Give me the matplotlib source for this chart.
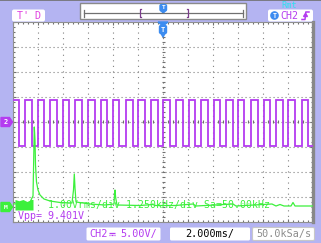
import matplotlib
matplotlib.use("Agg")
import matplotlib.pyplot as plt
from matplotlib.patches import Rectangle, FancyBboxPatch, Polygon, Circle
from matplotlib.ticker import MultipleLocator
import numpy as np

# ---------------- data ----------------
# CH2 square wave, 2.000 ms/div, 5.00 V/div
ch2_high_v = 4.3
ch2_low_v = -4.85
ch2_fall_ms = [-11.52, -10.50, -9.50, -8.50, -7.50, -6.50, -5.44, -4.50, -3.50, -2.44,
               -1.44, -0.44, 0.56, 1.56, 2.56, 3.56, 4.56, 5.56, 6.50, 7.56, 8.56,
               9.56, 10.58, 11.62]
ch2_rise_ms = [-11.04, -10.03, -9.02, -8.02, -7.02, -6.00, -4.98, -3.98, -2.96, -1.98,
               -0.98, 0.02, 1.03, 2.04, 3.04, 4.04, 5.04, 6.02, 7.02, 8.08, 9.04,
               10.02, 11.10]

# Math FFT trace, 1.250 kHz/div, 1.00 Vrms/div
fft_khz = [0.0, 0.85, 0.9, 1.0, 1.035, 1.065, 1.1, 1.125, 1.175, 1.25, 1.35, 1.55, 1.85,
           2.35, 2.95, 3.025, 3.065, 3.1, 3.15, 3.85, 4.6, 5.05, 5.085, 5.1, 5.135, 5.2,
           6.35, 7.0, 7.1, 8.1, 9.0, 9.15, 11.0, 11.15, 12.95, 13.15, 13.35, 13.55,
           13.9, 14.0, 14.1, 15.0]
fft_vrms = [0.12, 0.16, 0.28, 0.44, 1.88, 3.2, 2.68, 1.68, 1.0, 0.68, 0.48, 0.32, 0.24,
            0.18, 0.16, 0.68, 1.32, 0.76, 0.2, 0.12, 0.08, 0.12, 0.6, 0.68, 0.36, 0.08,
            0.06, 0.1, 0.06, 0.06, 0.12, 0.04, 0.12, 0.04, 0.12, 0.04, 0.1, 0.04,
            0.04, 0.18, 0.04, 0.04]
fft_dc_khz = [0.1, 0.3, 0.5, 0.7, 0.9, 1.0]
fft_dc_top = [0.3, 0.25, 0.3, 0.22, 0.3, 0.3]
fft_ref_div = -3.4   # math reference marker position (divisions)

vpp_text = "Vpp= 9.401V"
fft_text = "1.00Vrms/div 1.250kHz/div Sa=50.00kHz"
ch_name = "CH2"          # followed by the DC-coupling symbol (drawn as a shape)
ch_scale = "5.00V/"
tb_label = "2.000ms/"
sa_label = "50.0kSa/s"

# ---------------- styling ----------------
W, H = 321, 243
BG = "#B4B4F2"
PURPLE = "#B43CF0"
GREEN = "#3CF03C"
BLUE = "#3C8CF0"
MAGENTA = "#E040E0"
GRAYD = "#808080"
MONO = ["DejaVu Sans Mono", "DejaVu Sans"]

fig = plt.figure(figsize=(W / 100, H / 100), dpi=100, facecolor=BG)

# screen rectangle in pixels
SX0, SX1, SY0, SY1 = 13, 313, 22, 222
pos = [SX0 / W, (H - SY1) / H, (SX1 - SX0) / W, (SY1 - SY0) / H]

ax = fig.add_axes(pos, facecolor="white")
ax.set_xlim(-12, 12)
ax.set_ylim(-20, 20)
ax.xaxis.set_major_locator(MultipleLocator(2))
ax.xaxis.set_minor_locator(MultipleLocator(0.4))
ax.yaxis.set_major_locator(MultipleLocator(5))
ax.yaxis.set_minor_locator(MultipleLocator(1))
ax.tick_params(which="both", direction="in", top=True, right=True, color="#707070",
               width=0.8, labelbottom=False, labelleft=False)
ax.tick_params(which="major", length=2.4)
ax.tick_params(which="minor", length=1.3)
for s in ["left", "top", "bottom"]:
    ax.spines[s].set_color("#909090")
    ax.spines[s].set_linewidth(0.8)
ax.spines["right"].set_color("#888888")
ax.spines["right"].set_linewidth(2.4)

# dotted grid
for gx in np.arange(-10, 11, 2):
    ax.axvline(gx, color=GRAYD, lw=0.8, ls=(0, (1, 4)), zorder=1)
for gy in np.arange(-15, 16, 5):
    ax.axhline(gy, color=GRAYD, lw=0.8, ls=(0, (1, 2.6)), zorder=1)
# centre-line tick marks
ax.vlines(np.arange(-12, 12.01, 0.4), -0.3, 0.3, color="#707070", lw=0.8, zorder=1)
ax.hlines(np.arange(-20, 20.01, 1), -0.12, 0.12, color="#707070", lw=0.8, zorder=1)

# square wave built from the edge lists
edges = sorted([(t, ch2_low_v) for t in ch2_fall_ms] + [(t, ch2_high_v) for t in ch2_rise_ms])
tt = [-12.0]
vv = [ch2_high_v]
for t, lvl in edges:
    tt += [t, t]
    vv += [vv[-1], lvl]
tt.append(12.0)
vv.append(vv[-1])
ax.plot(tt, vv, color=PURPLE, lw=1.3, solid_joinstyle="miter", zorder=3)

# FFT on its own scales, same rectangle
axf = fig.add_axes(pos, facecolor="none")
axf.set_xlim(0, 15)
axf.set_ylim(-4 - fft_ref_div, 4 - fft_ref_div)
axf.axis("off")
axf.fill_between(fft_dc_khz, -0.12, fft_dc_top, color=GREEN, lw=0, zorder=2)
axf.plot(fft_khz, fft_vrms, color=GREEN, lw=0.9, zorder=3)

# ---------------- overlay in pixel coordinates ----------------
ov = fig.add_axes([0, 0, 1, 1], facecolor="none")
ov.set_xlim(0, W)
ov.set_ylim(H, 0)
ov.axis("off")
ov.set_zorder(10)

ov.plot([0, W], [0.5, 0.5], color="#707070", lw=1.2)

# channel markers on the left
ov.add_patch(Polygon([(1, 117.5), (9.5, 117.5), (12.5, 122), (9.5, 126.5), (1, 126.5)],
                     closed=True, color=PURPLE))
ov.text(5.5, 122.3, "2", color="white", fontsize=5, ha="center", va="center",
        family=MONO, fontweight="bold")
ov.add_patch(Polygon([(1, 202.5), (9.5, 202.5), (12.5, 207), (9.5, 211.5), (1, 211.5)],
                     closed=True, color=GREEN))
ov.text(5.5, 207.3, "M", color="white", fontsize=4.5, ha="center", va="center",
        family=MONO, fontweight="bold")

# on-screen texts
ov.text(48, 204.8, fft_text, color=GREEN, fontsize=7.1, family=MONO, ha="left", va="center")
ov.text(18, 215.5, vpp_text, color=PURPLE, fontsize=7.2, family=MONO, ha="left", va="center")

# trigger-position marker at top of screen
ov.add_patch(Polygon([(158, 22), (168, 22), (163, 26)], closed=True, color=BLUE))
ov.add_patch(FancyBboxPatch((159.5, 25.5), 7, 8, boxstyle="round,pad=0,rounding_size=1.5",
                            color=BLUE))
ov.add_patch(Polygon([(161, 33.5), (165, 33.5), (163, 37)], closed=True, color=BLUE))
ov.text(163, 29.7, "T", color="white", fontsize=5, ha="center", va="center",
        family=MONO, fontweight="bold")

# top-left "T' D" box
ov.add_patch(FancyBboxPatch((12, 9.5), 33, 12, boxstyle="round,pad=0,rounding_size=2",
                            facecolor="white", edgecolor="none"))
ov.text(17, 15.8, "T' D", color=MAGENTA, fontsize=7.2, family=MONO, ha="left", va="center")

# top centre memory bar
ov.add_patch(Rectangle((80, 3.5), 166, 16, facecolor="white", edgecolor="#8A8A8A", lw=1))
ov.plot([84, 243], [13.5, 13.5], color="#707070", lw=0.9)
ov.plot([84, 84], [10, 17], color="#707070", lw=0.9)
ov.plot([243, 243], [10, 17], color="#707070", lw=0.9)
ov.plot([141, 139.5, 139.5, 141], [9.5, 9.5, 17.5, 17.5], color="#7A3C8C", lw=0.9)
ov.plot([186.5, 188, 188, 186.5], [9.5, 9.5, 17.5, 17.5], color="#7A3C8C", lw=0.9)
ov.add_patch(FancyBboxPatch((160, 4.5), 6.5, 6.5, boxstyle="round,pad=0,rounding_size=1.5",
                            color=BLUE))
ov.add_patch(Polygon([(161.2, 10.8), (165.3, 10.8), (163.25, 13.2)], closed=True, color=BLUE))
ov.text(163.25, 7.9, "T", color="white", fontsize=4.5, ha="center", va="center",
        family=MONO, fontweight="bold")

# top right
ov.text(289, 5.3, "Rmt", color="#30E0F0", fontsize=6.2, family=MONO, ha="center",
        va="center")
ov.add_patch(FancyBboxPatch((268, 9.5), 45, 12, boxstyle="round,pad=0,rounding_size=2",
                            facecolor="white", edgecolor="none"))
ov.add_patch(Circle((274.5, 15.5), 3.6, color=BLUE))
ov.text(274.5, 15.7, "T", color="white", fontsize=4.8, ha="center", va="center",
        family=MONO, fontweight="bold")
ov.text(280.5, 15.8, "CH2", color=PURPLE, fontsize=7.2, family=MONO, ha="left", va="center")
ov.plot([302, 305, 305.8, 309], [19.5, 19.5, 12, 12], color=PURPLE, lw=1.1)
ov.add_patch(Polygon([(303.5, 16.5), (307.5, 16.5), (305.5, 13.5)], closed=True, color=PURPLE))

# bottom status boxes
ov.add_patch(FancyBboxPatch((86.5, 227.5), 74, 13, boxstyle="round,pad=0,rounding_size=1.5",
                            facecolor="white", edgecolor="none"))
ov.text(89.5, 234.3, ch_name, color=PURPLE, fontsize=7.3, family=MONO, ha="left", va="center")
# DC coupling symbol (no installed font has U+2393): solid bar over dashed bar
ov.plot([108.5, 115], [232.6, 232.6], color=PURPLE, lw=0.9, solid_capstyle="butt")
for dx in (108.5, 111.0, 113.5):
    ov.plot([dx, dx + 1.5], [235.4, 235.4], color=PURPLE, lw=0.9, solid_capstyle="butt")
ov.text(120.5, 234.3, ch_scale, color=PURPLE, fontsize=7.3, family=MONO, ha="left",
        va="center")
ov.add_patch(FancyBboxPatch((170, 227.5), 80, 13, boxstyle="round,pad=0,rounding_size=1.5",
                            facecolor="white", edgecolor="none"))
ov.text(210, 234.3, tb_label, color="black", fontsize=7.3, family=MONO, ha="center",
        va="center")
ov.add_patch(FancyBboxPatch((252.5, 227.5), 62, 13, boxstyle="round,pad=0,rounding_size=1.5",
                            facecolor="white", edgecolor="#C8C8C8", lw=0.8))
ov.text(283.5, 234.3, sa_label, color="#8C8C8C", fontsize=7.3, family=MONO, ha="center",
        va="center")

fig.savefig("out.png", dpi=100, facecolor=BG)
